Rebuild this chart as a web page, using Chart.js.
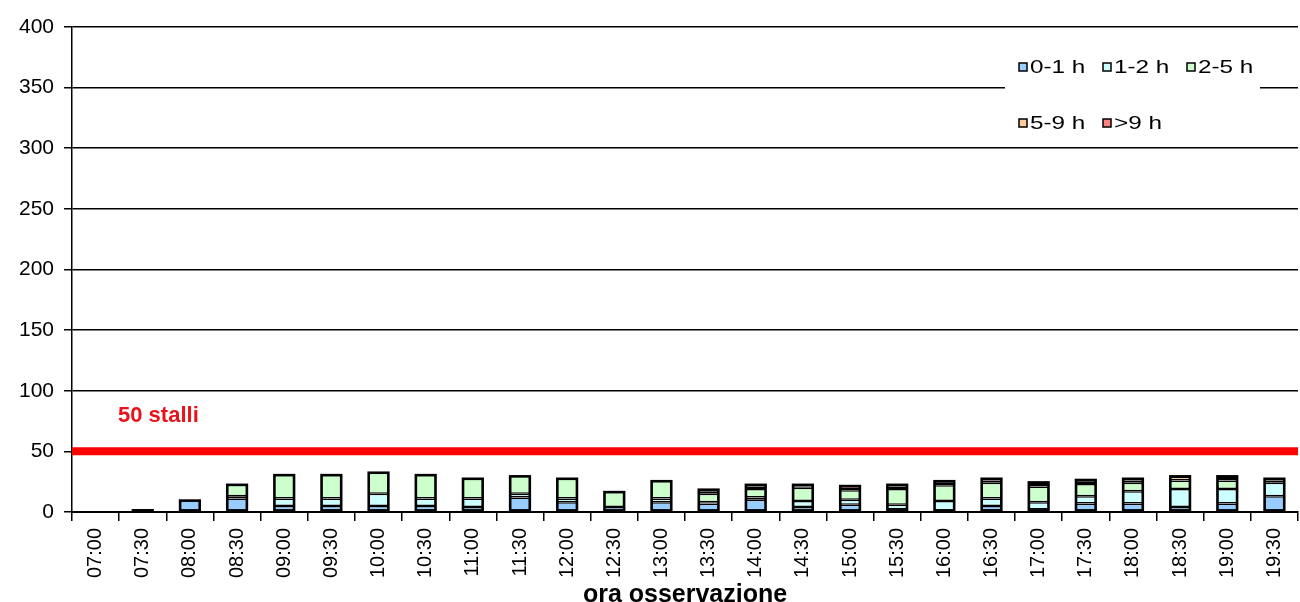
<!DOCTYPE html>
<html>
<head>
<meta charset="utf-8">
<script src="https://cdn.jsdelivr.net/npm/chart.js@4/dist/chart.umd.min.js"></script>
<style>
  html, body { margin: 0; padding: 0; background: #fff; }
  canvas { display: block; }
</style>
</head>
<body>
<canvas id="myChart" width="1300" height="602"></canvas>
<script>
// categorie (ora di osservazione)
const labels = ["07:00", "07:30", "08:00", "08:30", "09:00", "09:30", "10:00", "10:30",
  "11:00", "11:30", "12:00", "12:30", "13:00", "13:30", "14:00", "14:30", "15:00",
  "15:30", "16:00", "16:30", "17:00", "17:30", "18:00", "18:30", "19:00", "19:30"];

// veicoli per durata di sosta
const h0_1 = [0, 2, 10, 11, 5, 5, 5, 5, 4, 12, 8, 4, 8, 7, 10, 4, 6, 2, 1, 5, 2, 7, 7, 4, 7, 13];
const h1_2 = [0, 0, 0, 2, 6, 6, 10, 6, 7, 3, 3, 0, 3, 1, 2, 5, 4, 4, 8, 6, 6, 6, 10, 15, 12, 11];
const h2_5 = [0, 0, 0, 10, 20, 20, 18, 20, 17, 15, 17, 13, 15, 7, 7, 11, 8, 13, 13, 13, 13, 10, 7, 7, 7, 0];
const h5_9 = [0, 0, 0, 0, 0, 0, 0, 0, 0, 0, 0, 0, 0, 2, 2, 1, 1, 2, 2, 2, 2, 2, 2, 3, 2, 2];
const h9 = [0, 0, 0, 0, 0, 0, 0, 0, 0, 0, 0, 0, 0, 2, 2, 2, 3, 2, 2, 2, 2, 2, 2, 1, 2, 2];

const seriesNames = ["0-1 h", "1-2 h", "2-5 h", "5-9 h", ">9 h"];
const seriesColors = ["#99CCFF", "#CCFFFF", "#CCFFCC", "#FFCC99", "#FF8080"];

const yMax = 400;
const yStep = 50;
const stalli = 50;
const stalliLabel = "50 stalli";

const seriesData = [h0_1, h1_2, h2_5, h5_9, h9];
let datasets = seriesData.map(function (d, i) {
  return {
    label: seriesNames[i],
    data: d,
    backgroundColor: seriesColors[i],
    borderColor: "#000",
    borderWidth: 1.5,
    borderSkipped: false,
    barPercentage: 0.45,
    categoryPercentage: 1,
  };
});

// thicker outline around each whole stack
let outlinePlugin = {
  id: "stackOutline",
  afterDatasetsDraw: function (chart) {
    let ctx = chart.ctx;
    let metas = chart.data.datasets.map(function (ds, i) { return chart.getDatasetMeta(i); });
    ctx.save();
    ctx.strokeStyle = "#000";
    ctx.lineWidth = 2.6;
    labels.forEach(function (lab, j) {
      let top = null, bottom = null, left = null, right = null;
      metas.forEach(function (m, i) {
        if (!seriesData[i][j]) return;
        let bar = m.data[j];
        let p = bar.getProps(["x", "y", "base", "width"], true);
        top = top === null ? p.y : Math.min(top, p.y);
        bottom = bottom === null ? p.base : Math.max(bottom, p.base);
        left = p.x - p.width / 2;
        right = p.x + p.width / 2;
      });
      if (top === null) return;
      ctx.strokeRect(left + 0.8, top + 0.8, right - left - 1.6, bottom - top - 1.6);
    });
    ctx.restore();
  },
};

// red capacity line + label
let stalliPlugin = {
  id: "stalli",
  afterDatasetsDraw: function (chart) {
    let ctx = chart.ctx;
    let area = chart.chartArea;
    let y = chart.scales.y.getPixelForValue(stalli);
    ctx.save();
    ctx.strokeStyle = "#FF0000";
    ctx.lineWidth = 8;
    ctx.beginPath();
    ctx.moveTo(area.left, y);
    ctx.lineTo(area.right, y);
    ctx.stroke();
    ctx.fillStyle = "#E8131B";
    ctx.font = "bold 22px 'Liberation Sans', Arial, sans-serif";
    ctx.textBaseline = "middle";
    ctx.fillText(stalliLabel, area.left + 46, y - 35);
    ctx.restore();
  },
};

// legend box in the top right corner of the plot
let legendPlugin = {
  id: "boxLegend",
  afterDraw: function (chart) {
    let ctx = chart.ctx;
    let area = chart.chartArea;
    let boxX = area.right - 293;
    let boxY = 52;
    ctx.save();
    ctx.fillStyle = "#fff";
    ctx.fillRect(boxX, boxY, 255, 94);
    ctx.font = "18px 'Liberation Sans', Arial, sans-serif";
    ctx.textBaseline = "middle";
    let cols = [0, 84, 168];
    seriesNames.forEach(function (name, i) {
      let x = boxX + 14 + cols[i % 3];
      let y = boxY + (i < 3 ? 15 : 71);
      ctx.fillStyle = seriesColors[i];
      ctx.fillRect(x, y - 4, 8, 8);
      ctx.strokeStyle = "#000";
      ctx.lineWidth = 1.5;
      ctx.strokeRect(x, y - 4, 8, 8);
      ctx.fillStyle = "#000";
      ctx.save();
      ctx.translate(x + 11, y + 1);
      ctx.scale(1.35, 1);
      ctx.fillText(name, 0, 0);
      ctx.restore();
    });
    ctx.restore();
  },
};

let ctx = document.getElementById("myChart").getContext("2d");
let myChart = new Chart(ctx, {
  type: "bar",
  data: { labels: labels, datasets: datasets },
  options: {
    responsive: false,
    animation: false,
    layout: { padding: { left: 9, right: 2, top: 27, bottom: -3 } },
    plugins: { legend: { display: false }, tooltip: { enabled: false } },
    scales: {
      x: {
        stacked: true,
        afterFit: function (scale) { scale.paddingRight = 0; },
        grid: { offset: true, drawOnChartArea: false, color: "#000", lineWidth: 1.5, tickLength: 9 },
        border: { color: "#000", width: 2 },
        ticks: {
          autoSkip: false,
          maxRotation: 90,
          minRotation: 90,
          padding: 7,
          color: "#000",
          font: { family: "'Liberation Sans', Arial, sans-serif", size: 20 },
        },
        title: {
          display: true,
          text: "ora osservazione",
          color: "#000",
          padding: { top: 0, bottom: 0 },
          font: { family: "'Liberation Sans', Arial, sans-serif", size: 25, weight: "bold", lineHeight: 0.8 },
        },
      },
      y: {
        stacked: true,
        min: 0,
        max: yMax,
        grid: { color: "#000", lineWidth: 1.5, tickLength: 8 },
        border: { color: "#000", width: 1.5 },
        ticks: {
          stepSize: yStep,
          padding: 10,
          color: "#000",
          font: { family: "'Liberation Sans', Arial, sans-serif", size: 21 },
        },
      },
    },
  },
  plugins: [outlinePlugin, stalliPlugin, legendPlugin],
});
</script>
</body>
</html>
